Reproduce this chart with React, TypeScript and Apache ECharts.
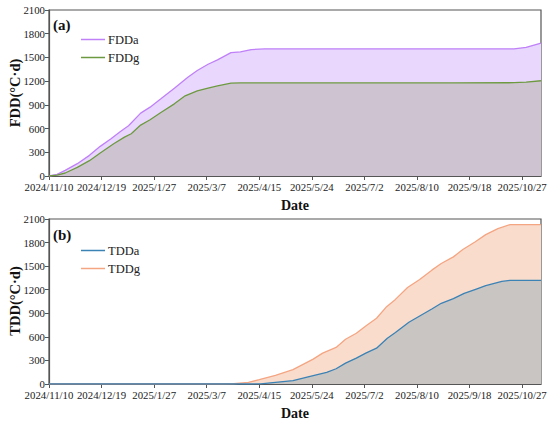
import React, { useEffect, useRef } from "react";
import * as echarts from "echarts";

const fddaDays = [0, 6, 12, 21, 30, 38, 46, 53, 59, 68, 75, 83, 93, 103, 110, 118, 125, 135, 142, 150, 160, 200, 250, 300, 345, 354, 365];
const fddaVals = [0, 21, 72, 156, 261, 375, 471, 564, 635, 795, 871, 976, 1111, 1250, 1334, 1414, 1469, 1561, 1570, 1599, 1608, 1608, 1608, 1608, 1608, 1627, 1682];

const fddgDays = [0, 6, 12, 21, 30, 38, 48, 56, 61, 68, 75, 83, 93, 101, 110, 118, 125, 135, 142, 160, 200, 250, 300, 345, 354, 365];
const fddgVals = [0, 12, 38, 109, 194, 290, 408, 492, 534, 644, 711, 804, 913, 1014, 1077, 1111, 1140, 1174, 1178, 1178, 1178, 1178, 1178, 1180, 1188, 1205];

const tddaDays = [0, 50, 100, 150, 157, 168, 181, 196, 206, 213, 220, 228, 235, 243, 251, 257, 267, 275, 284, 291, 300, 308, 317, 324, 336, 342, 365];
const tddaVals = [0, 0, 0, 0, 2, 21, 42, 106, 148, 194, 266, 330, 393, 456, 583, 655, 786, 866, 955, 1027, 1086, 1153, 1208, 1251, 1306, 1318, 1318];

const tddgDays = [0, 50, 100, 130, 137, 148, 156, 168, 181, 196, 203, 213, 220, 228, 235, 243, 250, 257, 266, 275, 284, 291, 300, 307, 316, 324, 333, 342, 365];
const tddgVals = [0, 0, 0, 0, 3, 20, 55, 110, 182, 317, 393, 465, 570, 646, 739, 837, 976, 1077, 1229, 1331, 1449, 1534, 1618, 1711, 1808, 1901, 1977, 2028, 2028];

const xTickInterval = 39;
const xMax = 365;
const yTicks = [0, 300, 600, 900, 1200, 1500, 1800, 2100];

const pairs = (d: number[], v: number[]) => d.map((x, i) => [x, v[i]]);
const START = Date.UTC(2024, 10, 10);
const fmtDate = (v: number) => {
  const dt = new Date(START + Math.round(v) * 86400000);
  return `${dt.getUTCFullYear()}/${dt.getUTCMonth() + 1}/${dt.getUTCDate()}`;
};

const FONT = "Liberation Serif";
const AX = "#555";

function xAxis(gridIndex: number) {
  return {
    type: "value",
    gridIndex,
    min: 0,
    max: xMax,
    interval: xTickInterval,
    name: "Date",
    nameLocation: "middle",
    nameGap: 22,
    nameTextStyle: { fontFamily: FONT, fontWeight: "bold", fontSize: 14, color: "#111" },
    axisLine: { show: true, lineStyle: { color: AX, width: 1.2 } },
    axisTick: { show: true, length: 4, lineStyle: { color: AX } },
    axisLabel: {
      fontFamily: FONT,
      fontSize: 10.8,
      color: "#222",
      margin: 5,
      showMinLabel: true,
      showMaxLabel: false,
      hideOverlap: false,
      formatter: (v: number) => (v >= xMax ? "" : fmtDate(v)),
    },
    splitLine: { show: false },
  };
}

function yAxis(gridIndex: number) {
  return {
    type: "value",
    gridIndex,
    min: yTicks[0],
    max: yTicks[yTicks.length - 1],
    interval: yTicks[1] - yTicks[0],
    axisLine: { show: true, lineStyle: { color: AX, width: 1.2 } },
    axisTick: { show: true, length: 4, lineStyle: { color: AX } },
    axisLabel: { fontFamily: FONT, fontSize: 10.8, color: "#222", margin: 4, formatter: (v: number) => String(v) },
    splitLine: { show: false },
  };
}

function series(name: string, idx: number, data: number[][], line: string, fill: string) {
  return {
    name,
    type: "line",
    xAxisIndex: idx,
    yAxisIndex: idx,
    data,
    symbol: "none",
    lineStyle: { color: line, width: 1.3 },
    itemStyle: { color: line },
    areaStyle: { color: fill, opacity: 1 },
  };
}

function legend(names: string[], top: number) {
  return {
    data: names,
    orient: "vertical",
    left: 81,
    top,
    itemWidth: 24,
    itemHeight: 8,
    itemGap: 5,
    icon: "path://M0,4L24,4L24,5.5L0,5.5Z",
    textStyle: { fontFamily: FONT, fontSize: 12.5, color: "#222", padding: [0, 0, 0, -2] },
    padding: 0,
  };
}

function yName(text: string, y: number) {
  return {
    type: "text",
    x: 15,
    y,
    rotation: Math.PI / 2,
    style: { text, font: `bold 14.5px '${FONT}'`, fill: "#111", align: "center", verticalAlign: "middle" },
  };
}

export default function App() {
  const ref = useRef<HTMLDivElement>(null);
  useEffect(() => {
    if (!ref.current) return;
    const chart = echarts.init(ref.current, undefined, { renderer: "svg" });
    chart.setOption({
      animation: false,
      backgroundColor: "#fff",
      grid: [
        { left: 49, right: 9, top: 10, height: 166, containLabel: false, outerBoundsMode: "none", show: true, borderColor: AX, borderWidth: 1.2, backgroundColor: "transparent" },
        { left: 49, right: 9, top: 219, height: 165, containLabel: false, outerBoundsMode: "none", show: true, borderColor: AX, borderWidth: 1.2, backgroundColor: "transparent" },
      ],
      xAxis: [xAxis(0), xAxis(1)],
      yAxis: [yAxis(0), yAxis(1)],
      legend: [legend(["FDDa", "FDDg"], 33), legend(["TDDa", "TDDg"], 244)],
      graphic: [
        { type: "text", left: 53, top: 17, style: { text: "(a)", font: `bold 15px '${FONT}'`, fill: "#111" } },
        { type: "text", left: 53, top: 227, style: { text: "(b)", font: `bold 15px '${FONT}'`, fill: "#111" } },
        yName("FDD(°C·d)", 93),
        yName("TDD(°C·d)", 301),
      ],
      series: [
        series("FDDa", 0, pairs(fddaDays, fddaVals), "#bf80f8", "#e9d7fd"),
        series("FDDg", 0, pairs(fddgDays, fddgVals), "#6d9a40", "#cec4d1"),
        series("TDDg", 1, pairs(tddgDays, tddgVals), "#f4a582", "#fadccd"),
        series("TDDa", 1, pairs(tddaDays, tddaVals), "#3b82b5", "#c9c5c3"),
      ],
    });
    return () => chart.dispose();
  }, []);
  return <div ref={ref} style={{ width: 550, height: 423, position: "absolute", left: 0, top: 0 }} />;
}
